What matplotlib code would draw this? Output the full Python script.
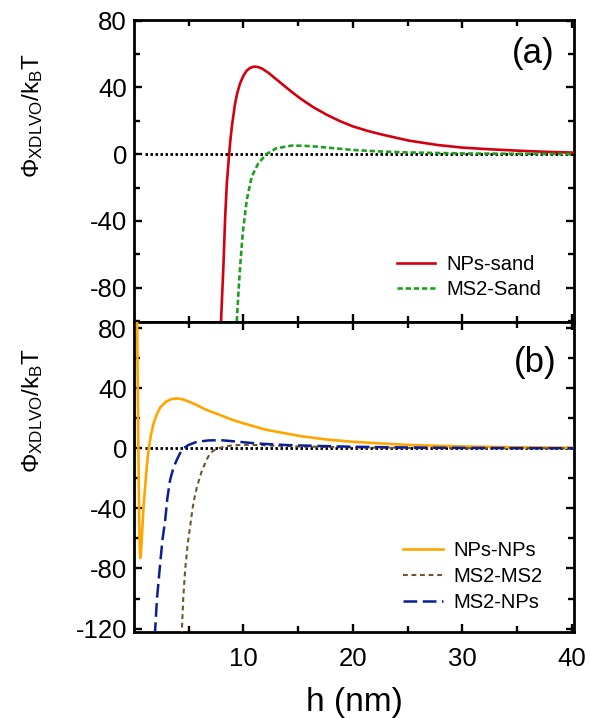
import matplotlib
matplotlib.use("Agg")
import matplotlib.pyplot as plt

# ---------------- data ----------------
# panel (a)
h_nps_sand = [7.9, 8.05, 8.17, 8.33, 8.48, 8.62, 8.69, 8.8, 8.94, 9.1, 9.24, 9.45, 9.7,
              10.0, 10.3, 10.6, 10.85, 11.07, 11.35, 11.7, 12.3, 13.0, 13.65, 14.4,
              15.2, 16.4, 17.6, 18.8, 20.0, 21.4, 22.8, 25.1, 27.7, 30.0, 32.5, 35.0,
              37.5, 40.2]
phi_nps_sand = [-108, -85, -67, -37.5, -17.5, -6, 0, 8, 16.5, 24, 30.5, 37, 42.5,
                47, 50, 51.6, 52.2, 52.4, 52.1, 51.2, 48.6, 44.8, 41.3, 37.3,
                33.3, 28, 23.6, 19.8, 16.6, 13.8, 11.5, 8.1, 5.5, 3.9, 2.9, 2.1,
                1.4, 0.9]

h_ms2_sand = [9.35, 9.55, 9.7, 9.94, 10.3, 10.75, 11.36, 12.1, 13.0, 14.4, 15.5, 16.7,
              18.3, 20.0, 22.5, 25.0, 30.0, 35.0, 40.2]
phi_ms2_sand = [-105, -82, -67, -47, -27.5, -13.5, -5.5, 0, 3.5, 5.1, 5.0, 4.5,
                3.5, 2.5, 1.6, 1.0, 0.4, 0.2, 0.1]

# panel (b)
h_nps_nps = [0.27, 0.33, 0.4, 0.47, 0.53, 0.57, 0.63, 0.72, 0.87, 1.02, 1.17, 1.32,
             1.55, 1.78, 2.1, 2.4, 2.9, 3.4, 3.9, 4.5, 5.0, 5.74, 6.5, 7.87, 9.0,
             10.0, 12.0, 15.2, 17.5, 20.0, 25.0, 30.0, 35.0, 40.2]
phi_nps_nps = [95, 50, 0, -45, -68, -73, -70, -59, -39, -25.6, -12, -1,
               9, 16.5, 23, 27.3, 31, 32.8, 33.3, 32.6, 31.2, 28.9, 26, 22.2, 19,
               16.7, 12.5, 8.2, 6, 4.4, 2.3, 1.3, 0.7, 0.4]

h_ms2_ms2 = [4.35, 4.5, 4.67, 4.9, 5.13, 5.35, 5.6, 5.9, 6.2, 6.6, 6.95, 7.26, 7.7,
             8.2, 9.0, 10.0, 11.5, 13.0, 15.0, 20.0, 25.0, 30.0, 40.2]
phi_ms2_ms2 = [-125, -100, -81, -64, -52, -40, -30, -22, -15, -8, -3.3, -1.5, 0,
               1.1, 2.0, 2.4, 2.2, 1.8, 1.3, 0.6, 0.3, 0.15, 0.05]

h_ms2_nps = [1.9, 2.1, 2.4, 2.6, 2.85, 3.05, 3.3, 3.6, 3.9, 4.2, 4.5, 4.97, 5.74,
             6.8, 7.9, 9.0, 11.2, 14.0, 17.0, 20.0, 25.0, 30.0, 35.0, 40.2]
phi_ms2_nps = [-125, -100, -76, -61, -47.8, -33, -21, -13, -7.8, -3.3, 0, 2.2, 4.4,
               5.3, 5.5, 4.8, 3.3, 2.2, 1.6, 1.1, 0.6, 0.35, 0.2, 0.1]

labels_a = ["NPs-sand", "MS2-Sand"]
labels_b = ["NPs-NPs", "MS2-MS2", "MS2-NPs"]
panel_tags = ["(a)", "(b)"]
x_ticks = [10, 20, 30, 40]
x_minor = [5, 15, 25, 35]
y_ticks_a = [-80, -40, 0, 40, 80]
y_ticks_b = [-120, -80, -40, 0, 40, 80]
y_minor = [-100, -60, -20, 20, 60]
zero_start = 1.0

# ---------------- style ----------------
plt.rcParams['font.family'] = ['Liberation Sans', 'DejaVu Sans']
plt.rcParams['axes.unicode_minus'] = False
plt.rcParams['mathtext.fontset'] = 'custom'
plt.rcParams['mathtext.rm'] = 'Liberation Sans'
plt.rcParams['mathtext.it'] = 'Liberation Sans:italic'

W, H = 590, 718
fig = plt.figure(figsize=(W / 100, H / 100), dpi=100)

left, right = 134 / W, 574 / W
ax_a = fig.add_axes([left, 1 - 322 / H, right - left, (322 - 20) / H])
ax_b = fig.add_axes([left, 1 - 632 / H, right - left, (632 - 322) / H])

xlim = (0, 40.2)

for ax, yt in ((ax_a, y_ticks_a), (ax_b, y_ticks_b)):
    ax.set_xlim(*xlim)
    ax.set_xticks(x_ticks)
    ax.set_xticks(x_minor, minor=True)
    ax.set_yticks(yt)
    ax.set_yticks(y_minor, minor=True)
    ax.set_yticklabels([str(v) for v in yt])
    ax.tick_params(which='both', direction='in', top=True, right=True,
                   width=1.7, labelsize=18.5)
    ax.tick_params(which='major', length=6)
    ax.tick_params(which='minor', length=4.5)
    ax.tick_params(axis='y', pad=5)
    ax.tick_params(axis='x', pad=11)
    for s in ax.spines.values():
        s.set_linewidth(2.0)
    ax.hlines(0, zero_start, xlim[1], colors='black', linewidth=2.0,
              linestyles=(0, (0.9, 0.9)), zorder=1)

ax_a.set_ylim(-100.5, 80.3)
ax_b.set_ylim(-122.3, 84.2)
ax_a.tick_params(axis='x', labelbottom=False)

# panel (a)
ax_a.plot(h_nps_sand, phi_nps_sand, color='#d40010', lw=1.9, label=labels_a[0], zorder=3)
ax_a.plot(h_ms2_sand, phi_ms2_sand, color='#1ea01e', lw=1.9,
          linestyle=(0, (2, 1.1)), label=labels_a[1], zorder=3)

# panel (b)
ax_b.plot(h_nps_nps, phi_nps_nps, color='#ffa500', lw=1.9, label=labels_b[0], zorder=3)
ax_b.plot(h_ms2_ms2, phi_ms2_ms2, color='#6e5530', lw=1.5,
          linestyle=(0, (2.3, 1.8)), label=labels_b[1], zorder=3)
ax_b.plot(h_ms2_nps, phi_ms2_nps, color='#0a1e96', lw=1.8,
          linestyle=(0, (5.5, 2.2)), label=labels_b[2], zorder=3)

leg_a = ax_a.legend(loc='upper left', bbox_to_anchor=(0.598, 0.222), frameon=False,
                    fontsize=14.5, handlelength=1.9, handletextpad=0.55,
                    labelspacing=0.3, borderpad=0, borderaxespad=0)
leg_b = ax_b.legend(loc='upper left', bbox_to_anchor=(0.612, 0.294), frameon=False,
                    fontsize=14.5, handlelength=1.95, handletextpad=0.55,
                    labelspacing=0.35, borderpad=0, borderaxespad=0)

ax_a.text(0.955, 0.89, panel_tags[0], transform=ax_a.transAxes, ha='right',
          va='center', fontsize=25)
ax_b.text(0.96, 0.87, panel_tags[1], transform=ax_b.transAxes, ha='right',
          va='center', fontsize=25)

ylab = r'$\mathrm{\Phi}_{\mathrm{XDLVO}}/\mathrm{k}_{\mathrm{B}}\mathrm{T}$'
fig.text(33 / W, 1 - 115 / H, ylab, rotation=90, ha='center', va='center', fontsize=17.5)
fig.text(33 / W, 1 - 410 / H, ylab, rotation=90, ha='center', va='center', fontsize=17.5)
fig.text(354 / W, 1 - 703 / H, 'h (nm)', ha='center', va='center', fontsize=24)

fig.savefig('out.png', dpi=100)
